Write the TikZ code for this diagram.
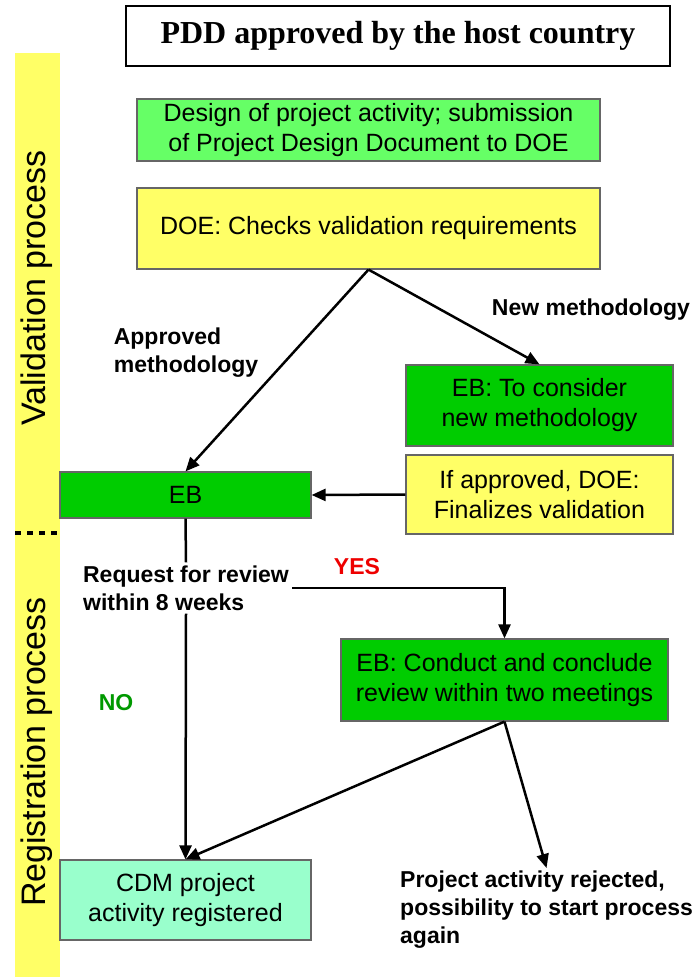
\documentclass[tikz,border=0pt]{standalone}
\usepackage{fontspec}
\setmainfont{Liberation Sans}
\newfontfamily\titlefont{Liberation Serif}
\usetikzlibrary{shapes, positioning}
\usetikzlibrary{arrows.meta}
\definecolor{barYellow}{HTML}{FFFF66}
\definecolor{lightGreen}{HTML}{66FF66}
\definecolor{darkGreen}{HTML}{00CC00}
\definecolor{regCyan}{HTML}{99FFCC}
\definecolor{yesRed}{HTML}{EE0000}
\definecolor{noGreen}{HTML}{009900}
\begin{document}
\begin{tikzpicture}[x=1pt, y=-1pt,
		box/.style={draw=black!60, line width=1.2pt, align=center, inner sep=0pt, font=\fontsize{25}{30}\selectfont},
		lbl/.style={font=\bfseries\fontsize{23}{28}\selectfont, inner sep=3pt},
		arr/.style={line width=2.5pt, -{Triangle[length=14pt, width=12pt]}}
	]
		\useasboundingbox (0,0) rectangle (693,977);
		\fill[barYellow] (15,53) rectangle (60,977);
		\draw[line width=4pt, dash pattern=on 6pt off 6pt] (15,533) -- (58,533);
		\node[rotate=90, font=\fontsize{34}{40}\selectfont] (valid) at (37,288) {Validation process};
		\node[rotate=90, font=\fontsize{34}{40}\selectfont] (regist) at (37,752) {Registration process};
		\node[draw, line width=1.5pt, minimum width=544pt, minimum height=60pt, font=\titlefont\bfseries\fontsize{32}{38}\selectfont] (title) at (398,36) {PDD approved by the host country};
		\node[box, fill=lightGreen, minimum width=463pt, minimum height=62pt] (design) at (368.5,130) {Design of project activity; submission\\of Project Design Document to DOE};
		\node[box, fill=barYellow, minimum width=463pt, minimum height=81pt] (doe) at (368.5,228.5) {DOE: Checks validation requirements};
		\node[box, fill=darkGreen, minimum width=267pt, minimum height=81pt] (consider) at (539.5,405.5) {EB: To consider\\new methodology};
		\node[box, fill=barYellow, minimum width=267pt, minimum height=79pt] (finalize) at (539.5,494.5) {If approved, DOE:\\Finalizes validation};
		\node[box, fill=darkGreen, minimum width=251pt, minimum height=46pt] (eb) at (185.5,495) {EB};
		\node[box, fill=darkGreen, minimum width=327pt, minimum height=82pt] (review) at (504.5,680) {EB: Conduct and conclude\\review within two meetings};
		\node[box, fill=regCyan, minimum width=251pt, minimum height=80pt] (cdm) at (185.5,900) {CDM project\\activity registered};
		\node[lbl] (newm) at (591,310) {New methodology};
		\node[lbl, align=left] (apprm) at (186,353) {Approved\\methodology};
		\node[lbl, align=left] (request) at (186,588) {Request for review\\within 8 weeks};
		\node[lbl, text=yesRed] (yes) at (357,567) {YES};
		\node[lbl, text=noGreen] (no) at (116,703) {NO};
		\node[lbl, align=left, anchor=north west] (reject) at (397,868) {Project activity rejected,\\possibility to start process\\again};
		\draw[arr] (doe.south) -- (eb.north);
		\draw[arr] (doe.south) -- (consider.north);
		\draw[arr] (finalize.west) -- (eb.east);
		\draw[line width=2.5pt] (eb.south) -- (request.north);
		\draw[arr] (request.south) -- (cdm.north);
		\draw[arr] (request.east) -| (review.north);
		\draw[arr] (review.south) -- (cdm.north);
		\draw[arr] (review.south) -- (reject.north);
\end{tikzpicture}
\end{document}
